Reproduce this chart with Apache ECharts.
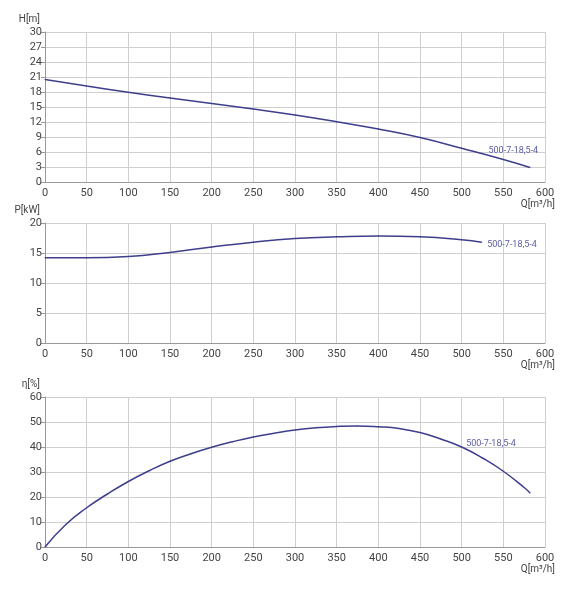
<!DOCTYPE html>
<html>
<head>
<meta charset="utf-8">
<script src="https://cdn.jsdelivr.net/npm/echarts@6/dist/echarts.min.js"></script>
<style>
	html, body { margin: 0; padding: 0; background: #fff; }
	#chart { width: 564px; height: 590px; }
</style>
</head>
<body>
<div id="chart"></div>
<script>
// curve data
var pumpName = '500-7-18,5-4';

var flowH = [ 0, 50, 100, 150, 200, 250, 300, 350, 400, 450, 500, 550, 582 ];
var head = [ 20.5, 19.2, 17.95, 16.8, 15.7, 14.6, 13.4, 12.05, 10.6, 8.9, 6.75, 4.5, 2.9 ];

var flowP = [ 0, 50, 100, 150, 200, 250, 300, 350, 400, 450, 500, 524 ];
var power = [ 14.2, 14.2, 14.4, 15.1, 16.0, 16.8, 17.4, 17.7, 17.85, 17.7, 17.2, 16.8 ];

var flowE = [ 0, 25, 50, 75, 100, 125, 150, 175, 200, 225, 250, 275, 300, 325,
		350, 375, 400, 425, 450, 475, 500, 525, 550, 575, 582 ];
var eff = [ 0, 9, 15.7, 21.2, 26.2, 30.5, 34.3, 37.3, 39.9, 42.1, 44.0, 45.5, 46.8, 47.7,
		48.2, 48.4, 48.1, 47.4, 45.8, 43.2, 40.0, 35.6, 30.3, 23.8, 21.6 ];

var lineColor = '#3d3f8c';
var textColor = '#444';
var gridColor = '#cfcfcf';

function pairs(xs, ys, labelIdx, labelCfg) {
	var res = [];
	for (var i = 0; i < xs.length; i++) {
		var item = { value : [ xs[i], ys[i] ] };
		if (i == labelIdx) {
			item.label = labelCfg;
		}
		res.push(item);
	}
	return res;
}

function xAxisOf(idx) {
	return {
		gridIndex : idx,
		type : 'value',
		min : 0,
		max : 600,
		interval : 50,
		name : 'Q[m³/h]',
		nameLocation : 'end',
		nameGap : 10,
		nameMoveOverlap : false,
		nameTextStyle : {
			color : textColor,
			fontSize : 10,
			align : 'right',
			verticalAlign : 'top',
			padding : [ 17, 0, 0, 0 ]
		},
		axisLine : { lineStyle : { color : '#999' } },
		axisTick : { show : false },
		axisLabel : { color : textColor, fontSize : 11, margin : 6 },
		splitLine : { lineStyle : { color : gridColor } }
	};
}

function yAxisOf(idx, name, max, interval) {
	return {
		gridIndex : idx,
		type : 'value',
		min : 0,
		max : max,
		interval : interval,
		name : name,
		nameLocation : 'end',
		nameGap : 8,
		nameMoveOverlap : false,
		nameTextStyle : {
			color : textColor,
			fontSize : 10,
			align : 'right',
			padding : [ 0, 5, 0, 0 ]
		},
		axisLine : { show : true, lineStyle : { color : '#999' } },
		axisTick : { show : true, length : 4, lineStyle : { color : '#999' } },
		axisLabel : { color : textColor, fontSize : 11, margin : 3 },
		splitLine : { lineStyle : { color : gridColor } }
	};
}

var nameLabel = {
	show : true,
	formatter : pumpName,
	color : '#5b5da3',
	fontSize : 9
};

function lineSeries(idx, data) {
	return {
		type : 'line',
		xAxisIndex : idx,
		yAxisIndex : idx,
		smooth : true,
		showSymbol : true,
		symbol : 'circle',
		symbolSize : 1,
		itemStyle : { color : lineColor },
		lineStyle : { color : lineColor, width : 1.5 },
		data : data,
		silent : true
	};
}

var chart = echarts.init(document.getElementById('chart'));
var gridBase = { left : 45, right : 19, outerBoundsMode : 'none', containLabel : false };
var option = {
	animation : false,
	textStyle : { fontFamily : 'Roboto, sans-serif' },
	grid : [
		Object.assign({ top : 32, height : 150 }, gridBase),
		Object.assign({ top : 223, height : 120 }, gridBase),
		Object.assign({ top : 397, height : 150 }, gridBase)
	],
	xAxis : [ xAxisOf(0), xAxisOf(1), xAxisOf(2) ],
	yAxis : [
		yAxisOf(0, 'H[m]', 30, 3),
		yAxisOf(1, 'P[kW]', 20, 5),
		yAxisOf(2, 'η[%]', 60, 10)
	],
	series : [
		lineSeries(0, pairs(flowH, head, 11,
			Object.assign({}, nameLabel, { position : 'top', distance : 4, offset : [ 10, 0 ] }))),
		lineSeries(1, pairs(flowP, power, 11,
			Object.assign({}, nameLabel, { position : 'right', distance : 5, offset : [ 0, 3 ] }))),
		lineSeries(2, pairs(flowE, eff, 20,
			Object.assign({}, nameLabel, { position : 'right', distance : 4, offset : [ 0, -3 ] })))
	]
};
chart.setOption(option);
</script>
</body>
</html>
